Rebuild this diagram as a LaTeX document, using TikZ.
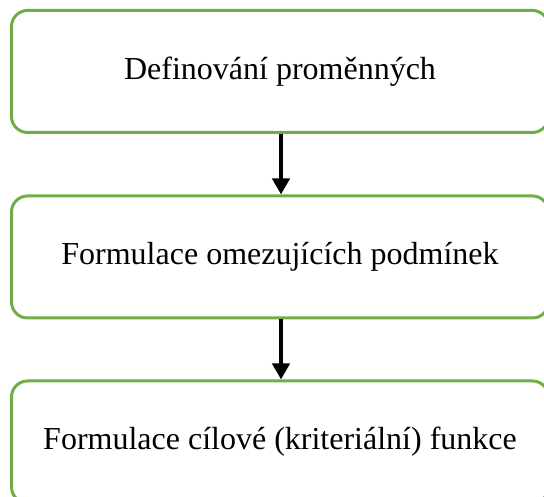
\documentclass[tikz,border=0pt]{standalone}
\usepackage{fontspec}
\setmainfont{Liberation Serif}
\usetikzlibrary{shapes,arrows.meta,positioning}
\definecolor{boxgreen}{RGB}{112,173,71}
\tikzstyle{step box} = [rectangle, rounded corners=16pt, draw=boxgreen, line width=3pt,
  minimum width=537pt, minimum height=122pt, align=center,
  font=\fontsize{32}{38}\selectfont]
\tikzstyle{line} = [draw, line width=4pt, -{Triangle[width=17pt,length=16pt]}]

\begin{document}
\begin{tikzpicture}[x=1pt, y=1pt]
			\useasboundingbox (0,0) rectangle (544,497);
			\node [step box] (def) at (280, 425.5) {Definování proměnných};
			\node [step box] (omez) at (280, 240) {Formulace omezujících podmínek};
			\node [step box] (cil) at (280, 55) {Formulace cílové (kriteriální) funkce};
			
			\path [line] (def.south -| 281,0) -- (omez.north -| 281,0);
			\path [line] (omez.south -| 281,0) -- (cil.north -| 281,0);
		\end{tikzpicture}
\end{document}
